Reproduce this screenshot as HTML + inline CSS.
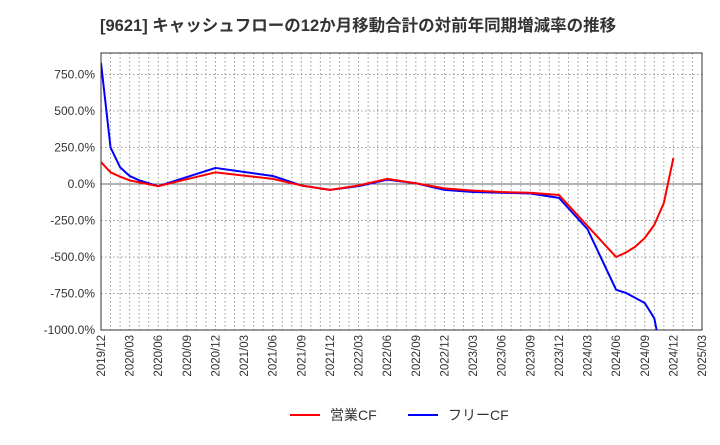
<!DOCTYPE html>
<html><head><meta charset="utf-8"><style>
body{margin:0;background:#fff;font-family:"Liberation Sans","Noto Sans CJK JP",sans-serif;}
</style></head><body>
<svg id="c" width="720" height="440" xmlns="http://www.w3.org/2000/svg" style="font-family:'Liberation Sans','Noto Sans CJK JP',sans-serif">
<text x="100" y="31" font-size="16.5" font-weight="bold" fill="#333">[9621]  キャッシュフローの12か月移動合計の対前年同期増減率の推移</text>
<defs><clipPath id="pc"><rect x="101" y="53" width="601" height="277"/></clipPath></defs>
<g id="grid"></g><g id="axes"></g><g id="series" clip-path="url(#pc)"></g>
<g>
<line x1="290" y1="415" x2="320" y2="415" stroke="#f00" stroke-width="2"/>
<text x="330" y="420" font-size="14" fill="#333">営業CF</text>
<line x1="408" y1="415" x2="438" y2="415" stroke="#00f" stroke-width="2"/>
<text x="448" y="420" font-size="14" fill="#333">フリーCF</text>
</g>
</svg>
<script>
const xLabels=["2019/12","2020/03","2020/06","2020/09","2020/12","2021/03","2021/06","2021/09","2021/12","2022/03","2022/06","2022/09","2022/12","2023/03","2023/06","2023/09","2023/12","2024/03","2024/06","2024/09","2024/12","2025/03"];
const yTicks=[750,500,250,0,-250,-500,-750,-1000];
const yTickLabels=["750.0%","500.0%","250.0%","0.0%","-250.0%","-500.0%","-750.0%","-1000.0%"];
const opMonths=[0,1,2,3,6,12,18,21,24,27,30,33,36,39,42,45,48,54,55,56,57,58,59,60];
const opValues=[150,80,50,25,-15,80,35,-10,-40,-10,35,5,-30,-45,-55,-60,-75,-500,-470,-430,-370,-280,-130,178];
const fcfMonths=[0,1,2,3,4,6,12,18,21,24,27,30,33,36,39,42,45,48,51,54,55,56,57,58,59];
const fcfValues=[830,250,115,55,25,-15,110,55,-10,-40,-15,30,5,-40,-55,-60,-65,-95,-310,-725,-745,-780,-815,-920,-1250];
const X0=101,X1=702,Y0=53,Y1=330;
const xs=m=>X0+(X1-X0)*m/63;
function y(v){return 184-v*36.5/250;}
const NS="http://www.w3.org/2000/svg";
function mk(t,a,p){const e=document.createElementNS(NS,t);for(const k in a)e.setAttribute(k,a[k]);p.appendChild(e);return e;}
const g=document.getElementById('grid'),ax=document.getElementById('axes'),s=document.getElementById('series');
for(let m=1;m<63;m++){const l=mk('line',{x1:xs(m),x2:xs(m),y1:Y0,y2:Y1,stroke:'#999','stroke-dasharray':'1.5,2.5','stroke-width':1},g);

}
yTicks.forEach((v,i)=>{const yy=y(v);
if(v!==0&&v!==-1000){const l=mk('line',{x1:X0,x2:X1,y1:yy,y2:yy,stroke:'#999','stroke-dasharray':'1.5,2.5'},g);

}
const t=mk('text',{x:X0-6,y:yy+4,'text-anchor':'end','font-size':12,fill:'#333'},ax);t.textContent=yTickLabels[i];

});
const z=mk('line',{x1:X0,x2:X1,y1:y(0),y2:y(0),stroke:'#666','stroke-width':1},ax);


const fr=mk('rect',{x:X0,y:Y0,width:X1-X0,height:Y1-Y0,fill:'none',stroke:'#333','stroke-width':1},ax);


xLabels.forEach((l,i)=>{const xx=xs(i*3);const t=mk('text',{transform:`translate(${xx+4},${Y1+5}) rotate(-90)`,'text-anchor':'end','font-size':11.5,fill:'#333'},ax);t.textContent=l;

});
function line(ms,vs,col,name){const p=mk('polyline',{points:ms.map((m,i)=>xs(m)+','+y(vs[i])).join(' '),fill:'none',stroke:col,'stroke-width':2,'stroke-linejoin':'round'},s);

}
line(fcfMonths,fcfValues,'#00f','free-cf-line');
line(opMonths,opValues,'#f00','operating-cf-line');
</script>
</body></html>
